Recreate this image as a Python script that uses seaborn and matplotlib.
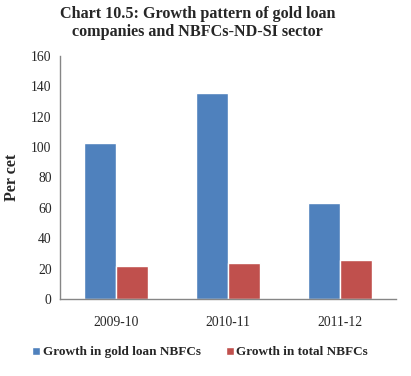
import pandas as pd
import matplotlib
matplotlib.use("Agg")
import matplotlib.pyplot as plt
import seaborn as sns
from matplotlib.ticker import FixedLocator

# Chart data
years = ["2009-10", "2010-11", "2011-12"]
gold_loan_growth = [102.5, 135.6, 63.2]
total_nbfc_growth = [21.7, 23.9, 25.5]
series_names = ["Growth in gold loan NBFCs", "Growth in total NBFCs"]
y_ticks = [0, 20, 40, 60, 80, 100, 120, 140, 160]

# Long table for seaborn
df = pd.DataFrame({
    "year": years * 2,
    "value": gold_loan_growth + total_nbfc_growth,
    "series": [series_names[0]] * 3 + [series_names[1]] * 3,
})

sns.set_style("white")
plt.rcParams["font.family"] = ["Liberation Serif", "DejaVu Serif"]

fig = plt.figure(figsize=(4.11, 3.76), dpi=100)
ax = fig.add_axes([60 / 411, 1 - 299 / 376, 336 / 411, 243 / 376])

sns.barplot(data=df, x="year", y="value", hue="series",
            palette=["#4F81BD", "#C0504D"], width=0.57, saturation=1,
            ax=ax, legend=True)

ax.set_ylim(0, 160)
ax.set_xlim(-0.5, 2.5)
ax.set_yticks(y_ticks)
ax.tick_params(axis="y", labelsize=9.8, length=3, direction="out", color="#868686", pad=3)
ax.tick_params(axis="x", which="major", labelsize=9.8, length=0, pad=12)
ax.xaxis.set_minor_locator(FixedLocator([-0.5, 0.5, 1.5, 2.5]))
ax.tick_params(axis="x", which="minor", length=4, direction="out", color="#868686")
ax.set_xlabel("")
ax.set_ylabel("Per cet", fontsize=11.5, fontweight="bold", labelpad=8)

for side in ["top", "right"]:
    ax.spines[side].set_visible(False)
for side in ["left", "bottom"]:
    ax.spines[side].set_color("#868686")
    ax.spines[side].set_linewidth(1)

ax.legend(loc="center", bbox_to_anchor=(0.417, -0.22), ncol=2, frameon=False,
          prop={"size": 9.5, "weight": "bold"}, handlelength=0.6, handleheight=0.6,
          handletextpad=0.2, columnspacing=1.9)

fig.text(0.48, 0.985, "Chart 10.5: Growth pattern of gold loan\ncompanies and NBFCs-ND-SI sector",
         ha="center", va="top", fontsize=11.6, fontweight="bold", linespacing=1.2)

fig.savefig("out.png", dpi=100, facecolor="white")
